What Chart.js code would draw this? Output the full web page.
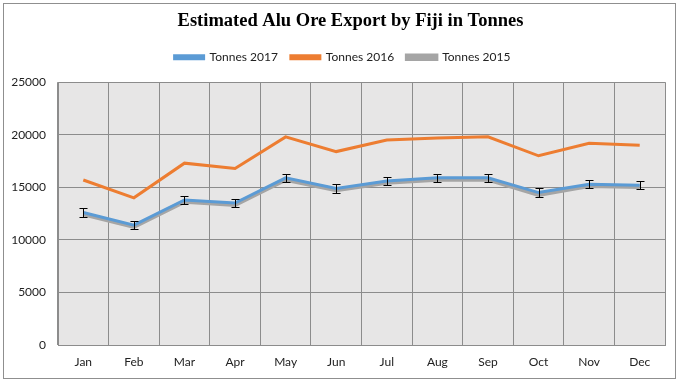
<!DOCTYPE html>
<html>
<head>
<meta charset="utf-8">
<script src="https://cdn.jsdelivr.net/npm/chart.js@4"></script>
<style>
html,body{margin:0;padding:0;background:#fff;}
#wrap{width:683px;height:383px;position:relative;}
</style>
</head>
<body>
<div id="wrap"><canvas id="c" width="683" height="383"></canvas></div>
<script>
const months = ["Jan","Feb","Mar","Apr","May","Jun","Jul","Aug","Sep","Oct","Nov","Dec"];
const tonnes2017 = [12600, 11400, 13800, 13500, 15900, 14900, 15600, 15900, 15900, 14500, 15300, 15200];
const tonnes2016 = [15700, 14000, 17300, 16800, 19800, 18400, 19500, 19700, 19800, 18000, 19200, 19000];
const tonnes2015 = [12450, 11250, 13650, 13350, 15750, 14750, 15450, 15750, 15750, 14300, 15150, 15050];
const errors2017 = [400, 400, 400, 400, 400, 400, 400, 400, 400, 400, 400, 400];
const yTicks = [0, 5000, 10000, 15000, 20000, 25000];

const frame = {
  id: 'frame',
  afterInit(chart) {
    const lg = chart.legend;
    if (lg) {
      const f = lg.fit;
      lg.fit = function () { f.call(this); this.height += 9; };
    }
  },
  afterLayout(chart) {
    if (chart.titleBlock) chart.titleBlock.left += 36;
    if (chart.legend) chart.legend.left += 20;
  },
  beforeDraw(chart) {
    const ctx = chart.ctx;
    ctx.save();
    ctx.fillStyle = '#ffffff';
    ctx.fillRect(0, 0, chart.width, chart.height);
    ctx.strokeStyle = '#8f8f8f';
    ctx.lineWidth = 1;
    ctx.strokeRect(3.5, 3.5, 672, 375);
    const a = chart.chartArea;
    ctx.fillStyle = '#e7e6e6';
    ctx.fillRect(a.left, a.top, a.right - a.left, a.bottom - a.top);
    ctx.restore();
  }
};

const errorBars = {
  id: 'errorBars',
  afterDatasetsDraw(chart) {
    const ctx = chart.ctx;
    const xs = chart.scales.x, ys = chart.scales.y;
    ctx.save();
    ctx.strokeStyle = '#000';
    ctx.lineWidth = 1;
    tonnes2017.forEach((v, i) => {
      const x = Math.round(xs.getPixelForValue(i)) + 0.5;
      const y1 = Math.round(ys.getPixelForValue(v + errors2017[i])) + 0.5;
      const y2 = Math.round(ys.getPixelForValue(v - errors2017[i])) + 0.5;
      ctx.beginPath();
      ctx.moveTo(x, y1); ctx.lineTo(x, y2);
      ctx.moveTo(x - 4, y1); ctx.lineTo(x + 4, y1);
      ctx.moveTo(x - 4, y2); ctx.lineTo(x + 4, y2);
      ctx.stroke();
    });
    ctx.restore();
  }
};

new Chart(document.getElementById('c'), {
  type: 'line',
  data: {
    labels: months,
    datasets: [
      { label: 'Tonnes 2017', data: tonnes2017, borderColor: '#5b9bd5', backgroundColor: '#5b9bd5', borderWidth: 3, pointRadius: 0, tension: 0 },
      { label: 'Tonnes 2016', data: tonnes2016, borderColor: '#ed7d31', backgroundColor: '#ed7d31', borderWidth: 3, pointRadius: 0, tension: 0 },
      { label: 'Tonnes 2015', data: tonnes2015, borderColor: '#a5a5a5', backgroundColor: '#a5a5a5', borderWidth: 4.5, pointRadius: 0, tension: 0 }
    ]
  },
  options: {
    responsive: false,
    animation: false,
    devicePixelRatio: 1,
    layout: { padding: { left: 0, right: 18, top: 0, bottom: 0 } },
    plugins: {
      title: {
        display: true,
        text: 'Estimated Alu Ore Export by Fiji in Tonnes',
        font: { family: 'Liberation Serif', size: 18.5, weight: 'bold' },
        color: '#000',
        padding: { top: 10, bottom: 6 }
      },
      legend: {
        display: true,
        position: 'top',
        labels: {
          boxWidth: 29, boxHeight: 3,
          font: { family: 'Lato', size: 12 },
          color: '#222',
          padding: 13
        }
      },
      tooltip: { enabled: false }
    },
    scales: {
      x: {
        offset: true,
        grid: { offset: true, color: '#8c8c8c', drawTicks: false, lineWidth: 1 },
        border: { display: true, color: '#8c8c8c' },
        ticks: { font: { family: 'Lato', size: 12 }, color: '#222', padding: 10 },
        afterFit(s) { s.height = 38; }
      },
      y: {
        min: 0, max: 25000,
        afterBuildTicks(s) { s.ticks = yTicks.map(v => ({ value: v })); },
        grid: { color: '#8c8c8c', drawTicks: false, lineWidth: 1 },
        border: { display: true, color: '#8c8c8c' },
        ticks: { font: { family: 'Lato', size: 12 }, color: '#222', padding: 12, callback: (v) => String(v) },
        afterFit(s) { s.width = 58; }
      }
    }
  },
  plugins: [frame, errorBars]
});
</script>
</body>
</html>
